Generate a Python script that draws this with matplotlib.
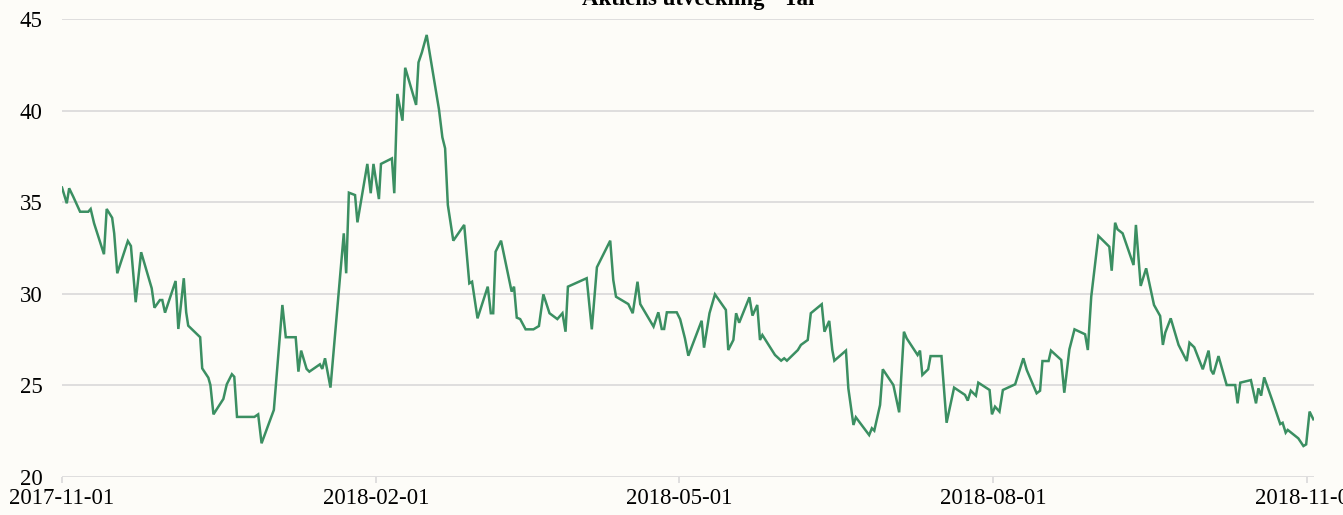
import numpy as np
import pandas as pd
import matplotlib
matplotlib.use('Agg')
import matplotlib.pyplot as plt
import matplotlib.dates as mdates

# Dagar sedan 2017-11-01 och stängningskurs
start_date = '2017-11-01'
day_offset = [
    0.0, 1.4, 2.1, 3.3, 5.3, 7.7, 8.4, 9.4, 12.3, 13.1, 14.7, 15.3, 16.2,
    19.3, 20.2, 21.6, 23.2, 26.3, 27.1, 28.7, 29.4, 30.2, 33.3, 34.1, 35.7,
    36.4, 37.0, 40.5, 41.1, 42.9, 43.5, 44.4, 47.3, 48.3, 49.8, 50.5, 51.3,
    56.4, 57.5, 58.5, 62.1, 64.6, 65.6, 68.5, 69.3, 70.1, 71.7, 72.5, 75.6,
    76.3, 77.1, 78.7, 82.6, 83.3, 84.1, 85.9, 86.6, 89.5, 90.5, 91.3, 92.9,
    93.5, 96.7, 97.4, 98.3, 99.8, 100.6, 103.8, 104.5, 105.5, 106.9, 110.5,
    111.5, 112.3, 113.1, 114.7, 117.9, 119.4, 120.2, 121.8, 124.8, 125.7,
    126.4, 127.1, 128.7, 131.8, 132.5, 133.3, 134.3, 135.9, 138.2, 139.8,
    141.1, 142.9, 145.2, 146.7, 147.6, 148.3, 153.8, 155.3, 156.8, 160.7,
    161.6, 162.4, 166.0, 167.3, 168.7, 169.5, 173.4, 174.8, 175.8, 176.5,
    177.3, 180.2, 181.2, 182.6, 183.6, 187.5, 188.2, 189.8, 191.4, 194.6,
    195.3, 196.8, 197.6, 198.5, 201.5, 202.4, 203.8, 204.6, 205.3, 209.0,
    210.8, 211.7, 212.5, 215.7, 216.6, 218.6, 219.5, 222.7, 223.5, 224.9,
    225.8, 226.4, 229.8, 230.5, 232.0, 232.7, 236.6, 237.4, 238.1, 239.8,
    240.6, 243.7, 245.4, 246.8, 247.6, 250.8, 251.5, 252.2, 253.9, 254.6,
    257.8, 259.3, 261.5, 264.7, 265.5, 266.4, 267.9, 268.6, 271.9, 272.6,
    273.5, 274.8, 275.8, 279.4, 281.8, 282.8, 285.7, 286.7, 287.4, 289.2,
    289.9, 292.9, 293.8, 295.3, 296.8, 299.9, 300.7, 301.7, 303.8, 307.0,
    307.7, 308.7, 309.4, 310.9, 314.1, 314.8, 316.2, 317.8, 320.1, 321.9,
    322.7, 323.4, 325.0, 327.3, 329.7, 330.5, 331.9, 334.4, 336.1, 336.8,
    337.5, 339.0, 341.4, 343.9, 344.6, 345.4, 348.5, 350.0, 350.7, 351.5,
    352.4, 354.9, 357.1, 357.8, 358.7, 359.3, 362.4, 363.9, 364.7, 365.7,
    366.8,
]
price = [
    35.80, 34.94, 35.76, 35.30, 34.48, 34.48, 34.63, 33.85, 32.16, 34.63,
    34.15, 33.30, 31.12, 32.88, 32.61, 29.54, 32.27, 30.30, 29.24, 29.66,
    29.66, 28.97, 30.70, 28.08, 30.85, 28.99, 28.26, 27.63, 25.93, 25.42,
    25.02, 23.42, 24.26, 25.06, 25.61, 25.47, 23.28, 23.28, 23.42, 21.84,
    23.66, 29.39, 27.63, 27.63, 25.75, 26.90, 25.90, 25.75, 26.15, 25.90,
    26.48, 24.88, 33.30, 31.12, 35.52, 35.39, 33.90, 37.09, 35.49, 37.09,
    35.17, 37.09, 37.39, 35.49, 40.91, 39.45, 42.34, 40.31, 42.63, 43.18,
    44.13, 40.07, 38.54, 37.94, 34.85, 32.90, 33.76, 30.57, 30.66, 28.66,
    30.39, 28.94, 28.94, 32.30, 32.90, 30.12, 30.39, 28.70, 28.62, 28.06,
    28.06, 28.24, 29.97, 28.94, 28.62, 28.94, 27.93, 30.39, 30.85, 28.06,
    31.45, 32.90, 30.75, 29.84, 29.44, 28.94, 30.66, 29.44, 28.21, 28.99,
    28.08, 28.08, 28.99, 28.99, 28.61, 27.57, 26.62, 28.53, 27.06, 28.94,
    29.97, 29.12, 26.93, 27.48, 28.94, 28.42, 29.81, 28.81, 29.39, 27.48,
    27.75, 26.66, 26.35, 26.48, 26.35, 26.93, 27.21, 27.48, 28.94, 29.43,
    27.93, 28.52, 26.93, 26.35, 26.90, 24.84, 22.84, 23.26, 22.29, 22.66,
    22.53, 23.93, 25.88, 25.02, 23.53, 27.93, 27.57, 26.66, 26.90, 25.57,
    25.88, 26.60, 26.60, 22.96, 24.88, 24.48, 24.17, 24.71, 24.44, 25.15,
    24.75, 23.42, 23.84, 23.57, 24.75, 25.06, 26.48, 25.84, 24.57, 24.71,
    26.33, 26.33, 26.90, 26.39, 24.60, 26.97, 28.06, 27.79, 26.93, 29.84,
    33.16, 32.57, 31.26, 33.88, 33.52, 33.30, 31.57, 33.76, 30.43, 31.39,
    29.39, 28.79, 27.21, 27.88, 28.66, 27.21, 26.33, 27.33, 27.08, 25.88,
    26.90, 25.84, 25.61, 26.60, 25.02, 25.02, 24.02, 25.15, 25.29, 24.02,
    24.84, 24.44, 25.44, 24.11, 22.89, 22.96, 22.42, 22.57, 22.11, 21.69,
    21.78, 23.57, 23.15,
]
tick_dates = ['2017-11-01', '2018-02-01', '2018-05-01', '2018-08-01', '2018-11-01']
y_ticks = [20, 25, 30, 35, 40, 45]
title = 'Aktiens utveckling - Tal'

dates = pd.Timestamp(start_date) + pd.to_timedelta(np.array(day_offset), unit='D')

plt.rcParams['font.family'] = ['Liberation Serif', 'DejaVu Serif']
bg = '#fdfcf8'
grid_col = '#d9d9d9'

fig = plt.figure(figsize=(13.43, 5.15), dpi=100, facecolor=bg)
ax = fig.add_axes([62 / 1343, 38 / 515, 1252 / 1343, 458 / 515], facecolor=bg)

ax.plot(dates, price, color='#3b8f62', linewidth=1.8, solid_joinstyle='miter')

ax.set_ylim(20, 45)
ax.set_yticks(y_ticks)
ax.set_xlim(pd.Timestamp('2017-11-01'), pd.Timestamp('2018-11-03'))
ax.set_xticks([pd.Timestamp(d) for d in tick_dates])
ax.xaxis.set_major_formatter(mdates.DateFormatter('%Y-%m-%d'))

ax.grid(axis='y', color=grid_col, linewidth=1.2)
ax.set_axisbelow(True)
for s in ['top', 'right', 'left', 'bottom']:
    ax.spines[s].set_visible(False)

ax.tick_params(axis='y', length=0, pad=14, labelsize=16.5)
ax.tick_params(axis='x', length=4, width=1.2, color=grid_col, pad=4, labelsize=16.5)

# titeln ligger delvis utanför bilden, precis som i förlagan
ax.set_title(title, fontsize=16.5, fontweight='bold', pad=10, x=0.508)

fig.savefig('out.png', dpi=100, facecolor=bg)
